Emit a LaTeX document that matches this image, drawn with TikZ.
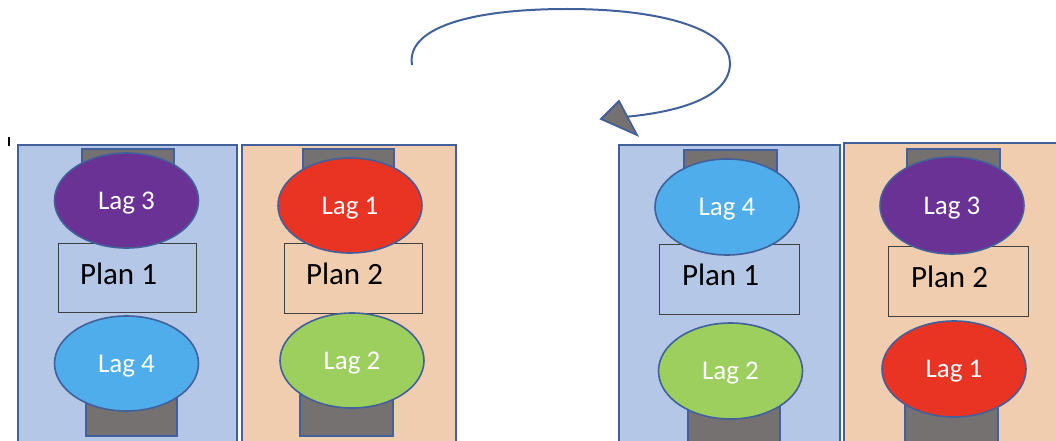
\documentclass[tikz,border=0pt]{standalone}
\usepackage{fontspec}
\setmainfont{Carlito}
\usetikzlibrary{shapes.geometric}
\definecolor{pblue}{HTML}{B4C7E7}
\definecolor{porange}{HTML}{F1CDAF}
\definecolor{edgeblue}{HTML}{41609C}
\definecolor{bargrey}{HTML}{767171}
\definecolor{lpurple}{HTML}{6A3294}
\definecolor{lred}{HTML}{E93323}
\definecolor{lblue}{HTML}{4EADEA}
\definecolor{lgreen}{HTML}{9DCF5F}
\begin{document}
\begin{tikzpicture}[x=1pt,y=-1pt,
  panel/.style={draw=edgeblue,line width=2.2pt},
  barbox/.style={draw=edgeblue,fill=bargrey,line width=1.6pt},
  lag/.style={ellipse,draw=edgeblue,line width=1.6pt,minimum width=144pt,minimum height=95pt,inner sep=0pt,text=white,text depth=0pt,font=\fontsize{27}{31}\selectfont},
  planbox/.style={draw=black!75,line width=0.8pt,inner sep=0pt},
  plantext/.style={text=black,text depth=0pt,font=\fontsize{31}{36}\selectfont},
  loop/.style={draw=edgeblue,line width=2pt},
  head/.style={draw=edgeblue,fill=bargrey,line width=1.8pt,line join=miter}]
\useasboundingbox (0,0) rectangle (1056,441);
\clip (0,0) rectangle (1056,441);
% tick mark
\coordinate (t1) at (9,137);
\coordinate (t2) at (9,146);
\draw[line width=1.2pt] (t1) -- (t2);
% panels
\path[panel,fill=pblue] (18,145) rectangle (237,450);
\path[panel,fill=porange] (242,145) rectangle (456,450);
\path[panel,fill=pblue] (619,145) rectangle (840,450);
\path[panel,fill=porange] (844,143) rectangle (1062,450);
% bars
\path[barbox] (82,149) rectangle (174,200);
\path[barbox] (86,364) rectangle (177,436);
\path[barbox] (303,149) rectangle (394,205);
\path[barbox] (300,360) rectangle (393,436);
\path[barbox] (684,150) rectangle (777,207);
\path[barbox] (688,371) rectangle (780,446);
\path[barbox] (907,149) rectangle (1000,205);
\path[barbox] (905,369) rectangle (998,446);
% plan boxes
\node[planbox,fill=pblue,minimum width=138pt,minimum height=69pt] (p1) at (127,277.5) {};
\node[planbox,fill=porange,minimum width=138pt,minimum height=70pt] (p2) at (353,278) {};
\node[planbox,fill=pblue,minimum width=140pt,minimum height=70pt] (p3) at (729,279) {};
\node[planbox,fill=porange,minimum width=140pt,minimum height=70pt] (p4) at (958,281) {};
\node[plantext] (p1t) at ([xshift=-8.5pt,yshift=4pt]p1.center) {Plan 1};
\node[plantext] (p2t) at ([xshift=-8.5pt,yshift=4pt]p2.center) {Plan 2};
\node[plantext] (p3t) at ([xshift=-8.5pt,yshift=4pt]p3.center) {Plan 1};
\node[plantext] (p4t) at ([xshift=-8.5pt,yshift=4pt]p4.center) {Plan 2};
% ellipses
\node[lag,fill=lpurple] (a3) at (126.5,200.5) {Lag 3};
\node[lag,fill=lblue] (a4) at (126.5,363.5) {Lag 4};
\node[lag,fill=lred] (b1) at (350,205.5) {Lag 1};
\node[lag,fill=lgreen] (b2) at (352,360.5) {Lag 2};
\node[lag,fill=lblue,minimum height=96pt] (c4) at (727,207) {Lag 4};
\node[lag,fill=lgreen,minimum height=96pt] (c2) at (730.5,371) {Lag 2};
\node[lag,fill=lpurple,minimum height=97pt] (d3) at (952,205.5) {Lag 3};
\node[lag,fill=lred,minimum height=96pt] (d1) at (954,369) {Lag 1};
% loop arrow
\coordinate (s) at (412,65);
\coordinate (top) at (567,9);
\coordinate (rt) at (730,63);
\coordinate (e) at (624,117);
\coordinate (tip) at (601,119);
\coordinate (h1) at (619,101);
\coordinate (h2) at (637,135);
\draw[loop] (s) .. controls (406,28) and (470,9) .. (top)
  .. controls (670,9) and (730,32) .. (rt)
  .. controls (730,97) and (680,112) .. (e);
\path[head] (tip) -- (h1) -- (h2) -- cycle;
\end{tikzpicture}
\end{document}
